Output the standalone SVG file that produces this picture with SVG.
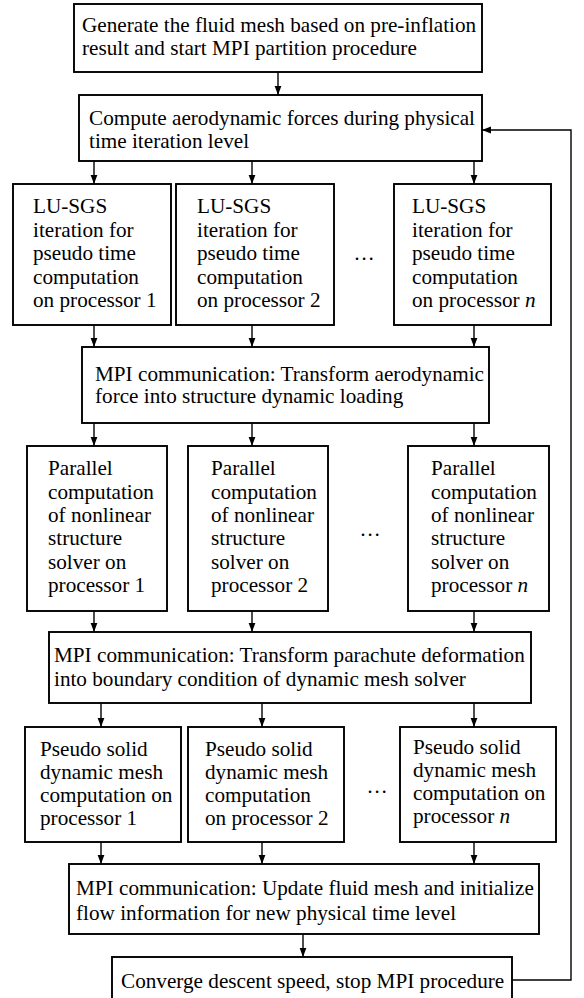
<svg xmlns="http://www.w3.org/2000/svg" width="584" height="998" viewBox="0 0 584 998">
<style>
.box{fill:#fff;stroke:#000;stroke-width:1.9}
text{font-family:"Liberation Serif","Times New Roman",serif;font-size:21.2px;fill:#000}
.c{fill:none;stroke:#000;stroke-width:1.4}
.it{font-style:italic}
</style>
<defs>
<marker id="ah" markerUnits="userSpaceOnUse" markerWidth="9" markerHeight="10" refX="9" refY="4" orient="auto" viewBox="0 0 9 8">
<path d="M0,0.6 L9,4 L0,7.4 Z" fill="#000"/>
</marker>
</defs>
<rect width="584" height="998" fill="#fff"/>
<g id="connectors">
<line class="c" x1="278" y1="72" x2="278" y2="95" marker-end="url(#ah)"/>
<line class="c" x1="94" y1="161" x2="94" y2="184" marker-end="url(#ah)"/>
<line class="c" x1="252" y1="161" x2="252" y2="184" marker-end="url(#ah)"/>
<line class="c" x1="474" y1="161" x2="474" y2="184" marker-end="url(#ah)"/>
<line class="c" x1="94" y1="325" x2="94" y2="347" marker-end="url(#ah)"/>
<line class="c" x1="252" y1="325" x2="252" y2="347" marker-end="url(#ah)"/>
<line class="c" x1="474" y1="325" x2="474" y2="347" marker-end="url(#ah)"/>
<line class="c" x1="94" y1="423" x2="94" y2="446" marker-end="url(#ah)"/>
<line class="c" x1="252" y1="423" x2="252" y2="446" marker-end="url(#ah)"/>
<line class="c" x1="474" y1="423" x2="474" y2="446" marker-end="url(#ah)"/>
<line class="c" x1="94" y1="611" x2="94" y2="632" marker-end="url(#ah)"/>
<line class="c" x1="252" y1="611" x2="252" y2="632" marker-end="url(#ah)"/>
<line class="c" x1="474" y1="611" x2="474" y2="632" marker-end="url(#ah)"/>
<line class="c" x1="101" y1="703" x2="101" y2="727" marker-end="url(#ah)"/>
<line class="c" x1="262" y1="703" x2="262" y2="727" marker-end="url(#ah)"/>
<line class="c" x1="474" y1="703" x2="474" y2="727" marker-end="url(#ah)"/>
<line class="c" x1="101" y1="842" x2="101" y2="864" marker-end="url(#ah)"/>
<line class="c" x1="262" y1="842" x2="262" y2="864" marker-end="url(#ah)"/>
<line class="c" x1="474" y1="842" x2="474" y2="864" marker-end="url(#ah)"/>
<line class="c" x1="303" y1="934" x2="303" y2="957" marker-end="url(#ah)"/>
<polyline class="c" points="512,980 571,980 571,130 482,130" marker-end="url(#ah)"/>
</g>
<g id="n_generate">
<rect class="box" x="74" y="4" width="408" height="68"/>
<text x="82" y="32">Generate the fluid mesh based on pre-inflation</text>
<text x="82" y="55">result and start MPI partition procedure</text>
</g>
<g id="n_compute">
<rect class="box" x="79" y="95" width="403" height="66"/>
<text x="89" y="125">Compute aerodynamic forces during physical</text>
<text x="89" y="148">time iteration level</text>
</g>
<g id="n_lusgs1">
<rect class="box" x="13" y="184" width="158" height="141"/>
<text x="33" y="213">LU-SGS</text>
<text x="33" y="236.5">iteration for</text>
<text x="33" y="260">pseudo time</text>
<text x="33" y="283.5">computation</text>
<text x="33" y="307">on processor 1</text>
</g>
<g id="n_lusgs2">
<rect class="box" x="176" y="184" width="158" height="141"/>
<text x="197" y="213">LU-SGS</text>
<text x="197" y="236.5">iteration for</text>
<text x="197" y="260">pseudo time</text>
<text x="197" y="283.5">computation</text>
<text x="197" y="307">on processor 2</text>
</g>
<text x="364" y="260" text-anchor="middle">…</text>
<g id="n_lusgsn">
<rect class="box" x="394" y="184" width="157" height="141"/>
<text x="412" y="213">LU-SGS</text>
<text x="412" y="236.5">iteration for</text>
<text x="412" y="260">pseudo time</text>
<text x="412" y="283.5">computation</text>
<text x="412" y="307">on processor <tspan class="it">n</tspan></text>
</g>
<g id="n_mpi1">
<rect class="box" x="82" y="347" width="407" height="76"/>
<text x="95" y="380.5">MPI communication: Transform aerodynamic</text>
<text x="95" y="403">force into structure dynamic loading</text>
</g>
<g id="n_par1">
<rect class="box" x="27" y="446" width="140" height="165"/>
<text x="48" y="475">Parallel</text>
<text x="48" y="498.5">computation</text>
<text x="48" y="522">of nonlinear</text>
<text x="48" y="545">structure</text>
<text x="48" y="568.5">solver on</text>
<text x="48" y="592">processor 1</text>
</g>
<g id="n_par2">
<rect class="box" x="188" y="446" width="140" height="165"/>
<text x="211" y="475">Parallel</text>
<text x="211" y="498.5">computation</text>
<text x="211" y="522">of nonlinear</text>
<text x="211" y="545">structure</text>
<text x="211" y="568.5">solver on</text>
<text x="211" y="592">processor 2</text>
</g>
<text x="370" y="536" text-anchor="middle">…</text>
<g id="n_parn">
<rect class="box" x="408" y="446" width="141" height="165"/>
<text x="431" y="475">Parallel</text>
<text x="431" y="498.5">computation</text>
<text x="431" y="522">of nonlinear</text>
<text x="431" y="545">structure</text>
<text x="431" y="568.5">solver on</text>
<text x="431" y="592">processor <tspan class="it">n</tspan></text>
</g>
<g id="n_mpi2">
<rect class="box" x="49" y="632" width="482" height="71"/>
<text x="54" y="662">MPI communication: Transform parachute deformation</text>
<text x="54" y="685.5">into boundary condition of dynamic mesh solver</text>
</g>
<g id="n_mesh1">
<rect class="box" x="25" y="727" width="156" height="115"/>
<text x="40" y="756">Pseudo solid</text>
<text x="40" y="779">dynamic mesh</text>
<text x="40" y="802">computation on</text>
<text x="40" y="825">processor 1</text>
</g>
<g id="n_mesh2">
<rect class="box" x="188" y="727" width="156" height="115"/>
<text x="205" y="756">Pseudo solid</text>
<text x="205" y="779">dynamic mesh</text>
<text x="205" y="802">computation</text>
<text x="205" y="825">on processor 2</text>
</g>
<text x="377" y="793" text-anchor="middle">…</text>
<g id="n_meshn">
<rect class="box" x="400" y="727" width="156" height="115"/>
<text x="413" y="754">Pseudo solid</text>
<text x="413" y="777">dynamic mesh</text>
<text x="413" y="800">computation on</text>
<text x="413" y="823">processor <tspan class="it">n</tspan></text>
</g>
<g id="n_mpi3">
<rect class="box" x="69" y="864" width="470" height="70"/>
<text x="76" y="895">MPI communication: Update fluid mesh and initialize</text>
<text x="76" y="920">flow information for new physical time level</text>
</g>
<g id="n_converge">
<rect class="box" x="112" y="957" width="400" height="60"/>
<text x="121" y="988">Converge descent speed, stop MPI procedure</text>
</g>
</svg>
